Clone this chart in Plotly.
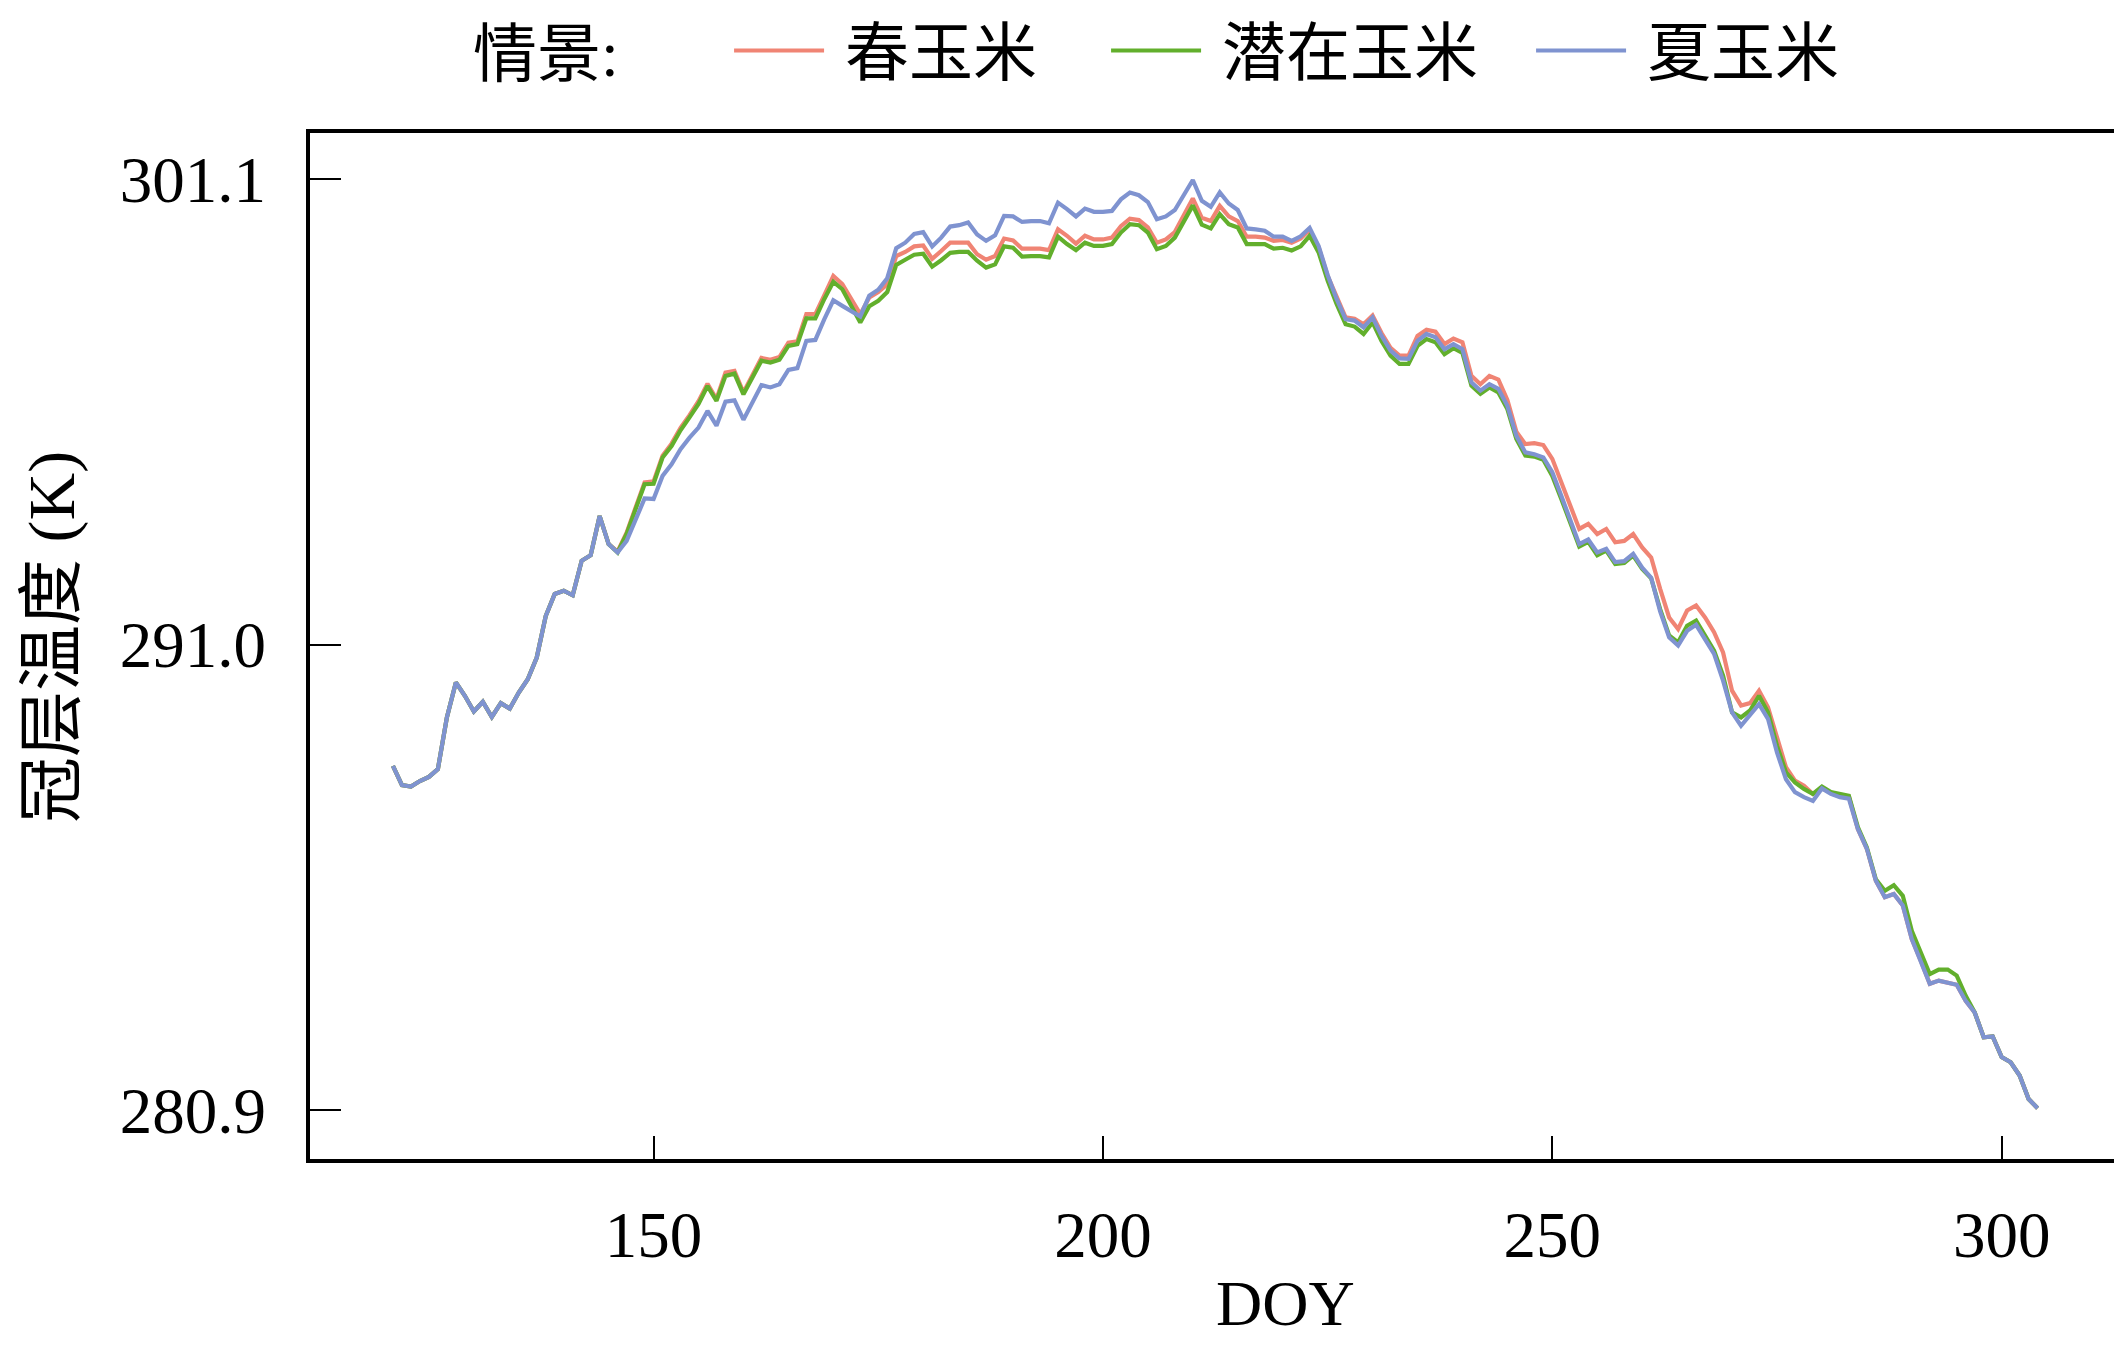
import plotly.graph_objects as go

## chart data
doy = list(range(121, 305))

# 春玉米
spring = [288.37, 287.95, 287.92, 288.04, 288.13, 288.30, 289.42, 290.18, 289.89, 289.55,
          289.76, 289.43, 289.73, 289.61, 289.96, 290.25, 290.72, 291.62, 292.10, 292.17,
          292.07, 292.82, 292.94, 293.79, 293.18, 293.02, 293.43, 294.00, 294.52, 294.54,
          295.10, 295.36, 295.70, 295.98, 296.28, 296.66, 296.33, 296.90, 296.94, 296.47,
          296.85, 297.22, 297.18, 297.24, 297.55, 297.58, 298.17, 298.17, 298.58, 299.00,
          298.82, 298.49, 298.17, 298.53, 298.65, 298.82, 299.43, 299.52, 299.64, 299.66,
          299.37, 299.54, 299.72, 299.72, 299.72, 299.47, 299.35, 299.43, 299.81, 299.77,
          299.59, 299.59, 299.59, 299.56, 300.01, 299.87, 299.70, 299.87, 299.79, 299.79,
          299.83, 300.08, 300.24, 300.21, 300.05, 299.72, 299.79, 299.95, 300.31, 300.68,
          300.26, 300.19, 300.52, 300.29, 300.19, 299.85, 299.85, 299.83, 299.76, 299.78,
          299.72, 299.81, 300.00, 299.62, 299.00, 298.52, 298.10, 298.07, 297.95, 298.14,
          297.76, 297.44, 297.27, 297.27, 297.70, 297.83, 297.79, 297.52, 297.64, 297.56,
          296.83, 296.65, 296.83, 296.75, 296.31, 295.62, 295.35, 295.37, 295.33, 295.03,
          294.52, 294.01, 293.51, 293.62, 293.40, 293.51, 293.22, 293.25, 293.40, 293.11,
          292.89, 292.21, 291.59, 291.34, 291.74, 291.85, 291.59, 291.27, 290.83, 290.00,
          289.68, 289.73, 290.00, 289.64, 288.95, 288.34, 288.05, 287.94, 287.76, 287.88,
          287.79, 287.72, 287.70, 287.00, 286.57, 285.88, 285.52, 285.59, 285.34, 284.61,
          284.14, 283.64, 283.71, 283.67, 283.62, 283.27, 283.02, 282.48, 282.50, 282.05,
          281.94, 281.65, 281.14, 280.94]

# 潜在玉米
potential = [288.37, 287.95, 287.92, 288.04, 288.13, 288.30, 289.42, 290.18, 289.89, 289.55,
             289.76, 289.43, 289.73, 289.61, 289.96, 290.25, 290.72, 291.62, 292.10, 292.17,
             292.07, 292.82, 292.94, 293.79, 293.18, 293.00, 293.40, 293.97, 294.48, 294.49,
             295.06, 295.31, 295.65, 295.93, 296.22, 296.61, 296.29, 296.83, 296.88, 296.43,
             296.80, 297.16, 297.12, 297.18, 297.48, 297.52, 298.08, 298.08, 298.50, 298.87,
             298.71, 298.36, 297.99, 298.34, 298.46, 298.65, 299.24, 299.35, 299.46, 299.48,
             299.20, 299.34, 299.50, 299.52, 299.52, 299.33, 299.18, 299.25, 299.64, 299.61,
             299.42, 299.43, 299.43, 299.40, 299.85, 299.69, 299.56, 299.72, 299.65, 299.65,
             299.69, 299.94, 300.12, 300.10, 299.94, 299.58, 299.65, 299.83, 300.19, 300.53,
             300.11, 300.03, 300.34, 300.12, 300.05, 299.69, 299.69, 299.69, 299.59, 299.61,
             299.55, 299.64, 299.87, 299.51, 298.90, 298.39, 297.95, 297.90, 297.74, 297.99,
             297.59, 297.27, 297.09, 297.09, 297.48, 297.63, 297.56, 297.30, 297.43, 297.33,
             296.62, 296.44, 296.58, 296.47, 296.11, 295.46, 295.10, 295.08, 295.01, 294.66,
             294.16, 293.62, 293.13, 293.23, 292.94, 293.04, 292.75, 292.77, 292.93, 292.64,
             292.44, 291.77, 291.20, 291.05, 291.41, 291.52, 291.20, 290.87, 290.33, 289.53,
             289.42, 289.57, 289.89, 289.53, 288.81, 288.23, 288.01, 287.87, 287.76, 287.92,
             287.80, 287.75, 287.72, 287.04, 286.60, 285.91, 285.66, 285.78, 285.55, 284.79,
             284.32, 283.85, 283.95, 283.95, 283.82, 283.38, 283.02, 282.48, 282.50, 282.05,
             281.94, 281.65, 281.14, 280.94]

# 夏玉米
summer = [288.37, 287.95, 287.92, 288.04, 288.13, 288.30, 289.42, 290.18, 289.89, 289.55,
          289.76, 289.43, 289.73, 289.61, 289.96, 290.25, 290.72, 291.62, 292.10, 292.17,
          292.07, 292.82, 292.94, 293.79, 293.18, 293.00, 293.25, 293.72, 294.17, 294.16,
          294.66, 294.91, 295.24, 295.49, 295.71, 296.07, 295.75, 296.27, 296.30, 295.88,
          296.25, 296.63, 296.58, 296.65, 296.96, 297.00, 297.59, 297.61, 298.06, 298.47,
          298.35, 298.24, 298.12, 298.57, 298.70, 298.95, 299.60, 299.72, 299.91, 299.95,
          299.64, 299.83, 300.07, 300.10, 300.16, 299.90, 299.76, 299.88, 300.30, 300.29,
          300.17, 300.19, 300.19, 300.14, 300.59, 300.45, 300.29, 300.46, 300.39, 300.39,
          300.41, 300.66, 300.81, 300.75, 300.60, 300.23, 300.29, 300.43, 300.77, 301.08,
          300.63, 300.50, 300.81, 300.57, 300.43, 300.03, 300.01, 299.98, 299.85, 299.85,
          299.76, 299.86, 300.04, 299.65, 299.02, 298.50, 298.06, 298.03, 297.88, 298.10,
          297.70, 297.38, 297.21, 297.20, 297.59, 297.74, 297.67, 297.41, 297.52, 297.41,
          296.69, 296.51, 296.65, 296.55, 296.18, 295.53, 295.17, 295.13, 295.06, 294.74,
          294.23, 293.69, 293.18, 293.28, 293.00, 293.08, 292.79, 292.81, 292.97, 292.67,
          292.45, 291.72, 291.16, 290.98, 291.30, 291.43, 291.12, 290.80, 290.22, 289.53,
          289.24, 289.46, 289.71, 289.39, 288.66, 288.08, 287.80, 287.69, 287.61, 287.88,
          287.76, 287.69, 287.66, 287.00, 286.57, 285.88, 285.52, 285.59, 285.34, 284.61,
          284.14, 283.64, 283.71, 283.67, 283.62, 283.27, 283.02, 282.48, 282.50, 282.05,
          281.94, 281.65, 281.14, 280.94]

names = ['春玉米', '潜在玉米', '夏玉米']
colors = ['#F08474', '#62AF2C', '#7F93D0']
x_ticks = [150, 200, 250, 300]
y_ticks = [280.9, 291.0, 301.1]
y_ticktext = ['280.9', '291.0', '301.1']

font = 'Liberation Serif, Noto Sans CJK SC'
nb = '\u00a0'  # spacing inside legend labels
gaps = [4, 3, 3]

fig = go.Figure()
for name, vals, col, g in zip(names, [spring, potential, summer], colors, gaps):
    fig.add_trace(go.Scatter(x=doy, y=vals, mode='lines', name=nb + name + nb * g,
                             line=dict(color=col, width=4.2)))

# page body has an 8px margin, so the figure is 16px smaller than the window
fig.update_layout(
    width=2106, height=1341,
    margin=dict(l=302, r=0, t=125, b=190, autoexpand=False),
    plot_bgcolor='white', paper_bgcolor='white',
    font=dict(family=font, size=62, color='black'),
    legend=dict(orientation='h', x=0.2323, xanchor='left', y=1.080, yanchor='middle',
                font=dict(size=64), itemwidth=90, bgcolor='rgba(0,0,0,0)'),
)

fig.update_xaxes(range=[111.77, 312.5], tickvals=x_ticks, ticks='inside', ticklen=23,
                 tickwidth=2, tickcolor='black', showline=True, linewidth=4,
                 linecolor='black', mirror=True, showgrid=False, zeroline=False,
                 tickfont=dict(size=65), ticklabelstandoff=16, automargin=False)
fig.update_yaxes(range=[279.84, 302.1], tickvals=y_ticks, ticktext=y_ticktext,
                 ticks='inside', ticklen=31, tickwidth=2, tickcolor='black',
                 showline=True, linewidth=4, linecolor='black', mirror=True,
                 showgrid=False, zeroline=False, tickfont=dict(size=65),
                 ticklabelstandoff=27, automargin=False)

# legend heading and axis titles
fig.add_annotation(text='情景:', xref='paper', yref='paper', x=0.0892, y=1.0767,
                   xanchor='left', yanchor='middle', showarrow=False,
                   font=dict(size=64))
fig.add_annotation(text='DOY', xref='paper', yref='paper', x=0.541, y=0,
                   yshift=-182, yanchor='bottom', showarrow=False,
                   font=dict(size=64))
fig.add_annotation(text='冠层温度 (K)', xref='paper', yref='paper', x=0, y=0.5,
                   xshift=-258, yshift=9, xanchor='center', yanchor='middle',
                   textangle=-90, showarrow=False, font=dict(size=66))

fig.write_html("out.html")
